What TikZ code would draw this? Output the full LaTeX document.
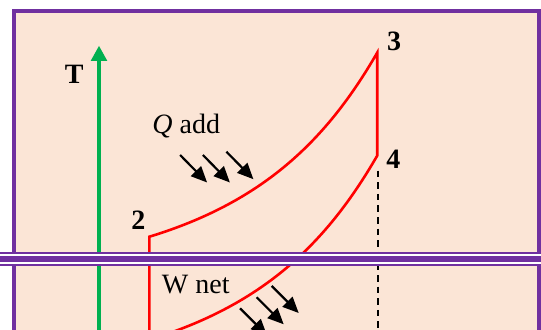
\documentclass[tikz,border=0pt]{standalone}
\usepackage{fontspec}
\setmainfont{Liberation Serif}
\usetikzlibrary{arrows.meta}
\definecolor{panel}{RGB}{251,229,214}
\definecolor{frame}{RGB}{112,48,160}
\definecolor{taxis}{RGB}{0,176,80}
\definecolor{cyc}{RGB}{255,0,0}

\begin{document}
\begin{tikzpicture}[x=0.5pt, y=-0.5pt, font=\fontsize{14}{16}\selectfont,
  num/.style={font=\fontsize{14}{16}\selectfont\bfseries, inner sep=0pt, anchor=base},
  txt/.style={inner sep=0pt, anchor=base},
  heat/.style={-{Triangle[length=8pt,width=7pt]}, line width=1.1pt},
  taxarrow/.style={-{Triangle[length=7.6pt,width=7.8pt]}, taxis, line width=1.7pt},
  cycline/.style={cyc, line width=1.3pt, line join=miter},
  dashline/.style={line width=1pt, dash pattern=on 3.3pt off 2.5pt}]

\useasboundingbox (0,0) rectangle (541,330);
\draw[frame, fill=panel, line width=2pt] (14,11.3) rectangle (539.2,360);

% state points
\coordinate (p1) at (149.4,339.7);
\coordinate (p2) at (149.4,236.7);
\coordinate (p3) at (377.2,52.7);
\coordinate (p4) at (377.2,155.7);
\coordinate (d0) at (377.6,170.7);
\coordinate (d1) at (377.6,345);
\coordinate (tbot) at (99,345);
\coordinate (ttop) at (99,45.7);

% axis
\draw[taxarrow] (tbot) -- (ttop);
\node[num] (lblT) at (74.2,84) {T};

% cycle
\draw[cycline] (p1) -- (p2) .. controls (264.1,201.7) and (327.2,139.3) .. (p3)
  -- (p4) .. controls (327.2,242.3) and (264.1,304.7) .. (p1);
\draw[dashline] (d0) -- (d1);

\node[num] (lbl2) at (138.3,229.3) {2};
\node[num] (lbl3) at (394,50.7) {3};
\node[num] (lbl4) at (393.4,168.3) {4};

% heat in / work out
\node[txt] (qadd) at (186.3,133.5) {\textit{Q} add};
\foreach \x/\y in {180.1/155, 202.9/155, 226.4/151.7}
  \draw[heat] (\x,\y) -- ++(27,27.5);
\node[txt] (wnet) at (195.8,293.3) {W net};
\foreach \x/\y in {240/308.3, 256.7/297.3, 271.7/286}
  \draw[heat] (\x,\y) -- ++(27,27);

% break
\fill[white] (0,252) rectangle (541,266);
\fill[frame] (0,252) rectangle (541,254);
\fill[frame] (0,256.3) rectangle (541,262);
\fill[frame] (0,264) rectangle (541,266);
\end{tikzpicture}
\end{document}
